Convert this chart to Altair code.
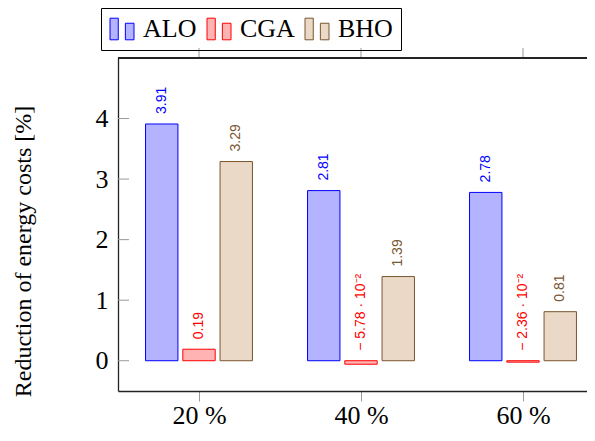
import json
import altair as alt
import pandas as pd

# ---- data ----
categories = ["20 %", "40 %", "60 %"]
series = ["ALO", "CGA", "BHO"]
alo = [3.91, 2.81, 2.78]
cga = [0.19, -0.0578, -0.0236]
bho = [3.29, 1.39, 0.81]
y_ticks = [0, 1, 2, 3, 4]

fill_colors = ["#b3b3ff", "#ffb3b3", "#ead9c6"]
stroke_colors = ["#0000ff", "#ff0000", "#7a5530"]


def fmt(v):
    if v != 0 and abs(v) < 0.1:
        exp = -2
        mant = v / (10 ** exp)
        sign = "− " if mant < 0 else ""
        return f"{sign}{abs(mant):.2f} · 10⁻²"
    return f"{v:.2f}"


rows = []
for j, (name, vals) in enumerate(zip(series, [alo, cga, bho])):
    for i, v in enumerate(vals):
        c = i + (j - 1) * 0.23
        rows.append({
            "series": name, "cat": categories[i], "val": v,
            "x0": c - 0.1, "x1": c + 0.1, "xc": c,
            "ly": max(v, 0.0), "label": fmt(v),
        })
df = pd.DataFrame(rows)
tick_df = pd.DataFrame({"t": y_ticks})
cat_df = pd.DataFrame({"g": list(range(len(categories)))})

serif = "Liberation Serif"
sans = "Liberation Sans"
# the plot frame runs past the right edge of the page, as in the reference
W, H = 486, 333

xscale = alt.Scale(domain=[-0.5, 2.5], nice=False, zero=False)
yscale = alt.Scale(domain=[-0.5, 5], nice=False, zero=False)

yaxis = alt.Axis(
    orient="left", values=y_ticks, format="d", ticks=False, grid=False, labelPadding=10,
    labelFont=serif, labelFontSize=26, labelColor="black",
    domainColor="#222", domainWidth=1.3,
    title="Reduction of energy costs [%]", titleFont=serif, titleFontSize=24,
    titleFontWeight="normal", titleColor="black", titleAngle=270,
    titleAlign="center", titleBaseline="middle", titleX=-95, titleY=193,
)

label_expr = json.dumps(categories) + "[datum.value]"
xaxis = alt.Axis(
    orient="bottom", values=[0, 1, 2], labelExpr=label_expr, grid=False,
    tickSize=10, tickColor="#999", tickWidth=1, labelPadding=1,
    labelFont=serif, labelFontSize=26, labelColor="black",
    domainColor="#222", domainWidth=1.3, title=None,
)

legend = alt.Legend(
    title=None, orient="none", legendX=-17, legendY=-50, direction="horizontal",
    symbolType="M-1,-0.9H-0.31V0.9H-1Z M0.28,-0.48H1V0.9H0.28Z",
    symbolSize=576, symbolStrokeWidth=1, labelFont=serif, labelFontSize=26,
    labelColor="black", labelOffset=8, columnPadding=8, padding=8,
    strokeColor="black",
)

base = alt.Chart(df)

bars = base.mark_bar(strokeWidth=1).encode(
    x=alt.X("x0:Q", scale=xscale, axis=xaxis),
    x2="x1:Q",
    y=alt.Y("val:Q", scale=yscale, axis=yaxis),
    y2=alt.datum(0),
    fill=alt.Fill("series:N", scale=alt.Scale(domain=series, range=fill_colors), legend=legend),
    stroke=alt.Stroke("series:N", scale=alt.Scale(domain=series, range=stroke_colors), legend=legend),
)

texts = base.mark_text(angle=270, align="left", baseline="middle", dx=10,
                       font=sans, fontSize=14).encode(
    x=alt.X("xc:Q", scale=xscale),
    y=alt.Y("ly:Q", scale=yscale),
    text="label:N",
    color=alt.Color("series:N", scale=alt.Scale(domain=series, range=stroke_colors), legend=None),
)

# inside ticks on the left frame
yticks = alt.Chart(tick_df).mark_rule(color="#999", strokeWidth=1).encode(
    x=alt.value(0), x2=alt.value(11),
    y=alt.Y("t:Q", scale=yscale),
)

# top frame line and outward ticks
top_line = alt.Chart(cat_df).mark_rule(color="#222", strokeWidth=1.3).encode(
    x=alt.value(0), x2=alt.value(W), y=alt.value(0),
)
top_ticks = alt.Chart(cat_df).mark_rule(color="#999", strokeWidth=1).encode(
    x=alt.X("g:Q", scale=xscale), y=alt.value(-10), y2=alt.value(0),
)

chart = alt.layer(bars, yticks, top_ticks, top_line, texts).properties(
    width=W, height=H,
    autosize=alt.AutoSizeParams(type="none"),
    padding={"left": 110, "top": 50, "right": -17, "bottom": 37},
).configure(
    background="white",
    view=alt.ViewConfig(stroke="transparent", strokeWidth=0),
    axisRight=alt.AxisConfig(domainOpacity=0, labelOpacity=0, tickOpacity=0,
                             titleOpacity=0, gridOpacity=0),
)

chart.save("out.html", embed_options={"renderer": "svg", "actions": False})
